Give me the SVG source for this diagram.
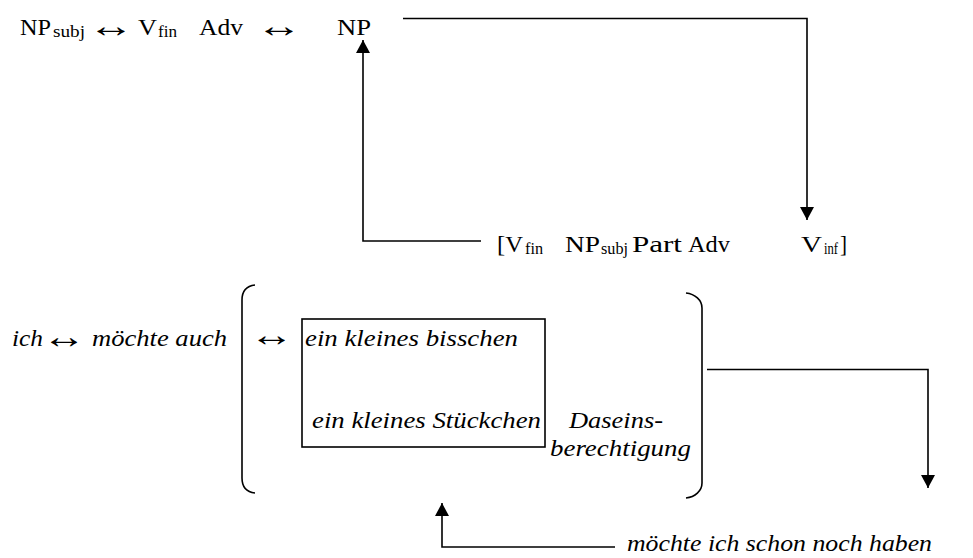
<svg xmlns="http://www.w3.org/2000/svg" width="973" height="558" viewBox="0 0 973 558">
<style>
text{font-family:"Liberation Serif","Times New Roman",serif;fill:#000}
.m{font-size:24px}
.s{font-size:16px}
.i{font-size:23px;font-style:italic}
.ar{font-size:34px;text-anchor:middle}
.ln{fill:none;stroke:#000;stroke-width:1.6}
</style>
<defs>
<marker id="ah" markerUnits="userSpaceOnUse" markerWidth="14" markerHeight="14" refX="13" refY="7" orient="auto" viewBox="0 0 14 14">
<path d="M0,0 L13,7 L0,14 z" fill="#000"/>
</marker>
</defs>
<rect width="973" height="558" fill="#fff"/>
<g id="top-row">
<text class="m" x="20" y="35" textLength="31" lengthAdjust="spacingAndGlyphs">NP</text>
<text class="s" x="53" y="37" textLength="32" lengthAdjust="spacingAndGlyphs">subj</text>
<text class="ar" transform="translate(111,37) scale(1.35,1)">↔</text>
<text class="m" x="138" y="35" textLength="19" lengthAdjust="spacingAndGlyphs">V</text>
<text class="s" x="158" y="37" textLength="19" lengthAdjust="spacingAndGlyphs">fin</text>
<text class="m" x="199" y="35" textLength="44" lengthAdjust="spacingAndGlyphs">Adv</text>
<text class="ar" transform="translate(279,37) scale(1.35,1)">↔</text>
</g>
<g id="np">
<text class="m" x="337" y="35" textLength="34" lengthAdjust="spacingAndGlyphs">NP</text>
</g>
<g id="second-row">
<text class="m" x="497" y="252" textLength="26" lengthAdjust="spacingAndGlyphs">[V</text>
<text class="s" x="525" y="254" textLength="18" lengthAdjust="spacingAndGlyphs">fin</text>
<text class="m" x="565" y="252" textLength="35" lengthAdjust="spacingAndGlyphs">NP</text>
<text class="s" x="601" y="254" textLength="27" lengthAdjust="spacingAndGlyphs">subj</text>
<text class="m" x="632" y="252" textLength="50" lengthAdjust="spacingAndGlyphs">Part</text>
<text class="m" x="688" y="252" textLength="42" lengthAdjust="spacingAndGlyphs">Adv</text>
</g>
<g id="vinf">
<text class="m" x="801" y="252" textLength="21" lengthAdjust="spacingAndGlyphs">V</text>
<text class="s" x="824" y="254" textLength="14" lengthAdjust="spacingAndGlyphs">inf</text>
<text class="m" x="840" y="252" textLength="7" lengthAdjust="spacingAndGlyphs">]</text>
</g>
<g id="bottom-left">
<text class="i" x="12" y="346" textLength="31" lengthAdjust="spacingAndGlyphs">ich</text>
<text class="ar" transform="translate(64,348) scale(1.28,1)">↔</text>
<text class="i" x="92" y="346" textLength="135" lengthAdjust="spacingAndGlyphs">möchte auch</text>
</g>
<g id="bracket-group">
<path class="ln" d="M255,285 C246,286 242,292 242,300 L242,478 C242,486 246,492 255,493"/>
<path class="ln" d="M686,293 C695,294 702,300 702,308 L702,483 C702,491 695,497 686,498"/>
<text class="ar" transform="translate(271.5,346) scale(1.3,1)">↔</text>
</g>
<g id="box">
<rect x="302" y="319" width="243" height="128" fill="none" stroke="#000" stroke-width="1.6"/>
<text class="i" x="305" y="346" textLength="213" lengthAdjust="spacingAndGlyphs">ein kleines bisschen</text>
<text class="i" x="312" y="428" textLength="229" lengthAdjust="spacingAndGlyphs">ein kleines Stückchen</text>
</g>
<g id="daseins">
<text class="i" x="569" y="428" textLength="94" lengthAdjust="spacingAndGlyphs">Daseins-</text>
<text class="i" x="550" y="456" textLength="141" lengthAdjust="spacingAndGlyphs">berechtigung</text>
</g>
<g id="bottom-right">
<text class="i" x="627" y="551" textLength="305" lengthAdjust="spacingAndGlyphs">möchte ich schon noch haben</text>
</g>
<g id="connectors">
<path class="ln" d="M403,18.5 H807 V220" marker-end="url(#ah)"/>
<path class="ln" d="M481,241 H363 V40" marker-end="url(#ah)"/>
<path class="ln" d="M707,369.5 H928 V488" marker-end="url(#ah)"/>
<path class="ln" d="M615,547 H442 V503" marker-end="url(#ah)"/>
</g>
</svg>
